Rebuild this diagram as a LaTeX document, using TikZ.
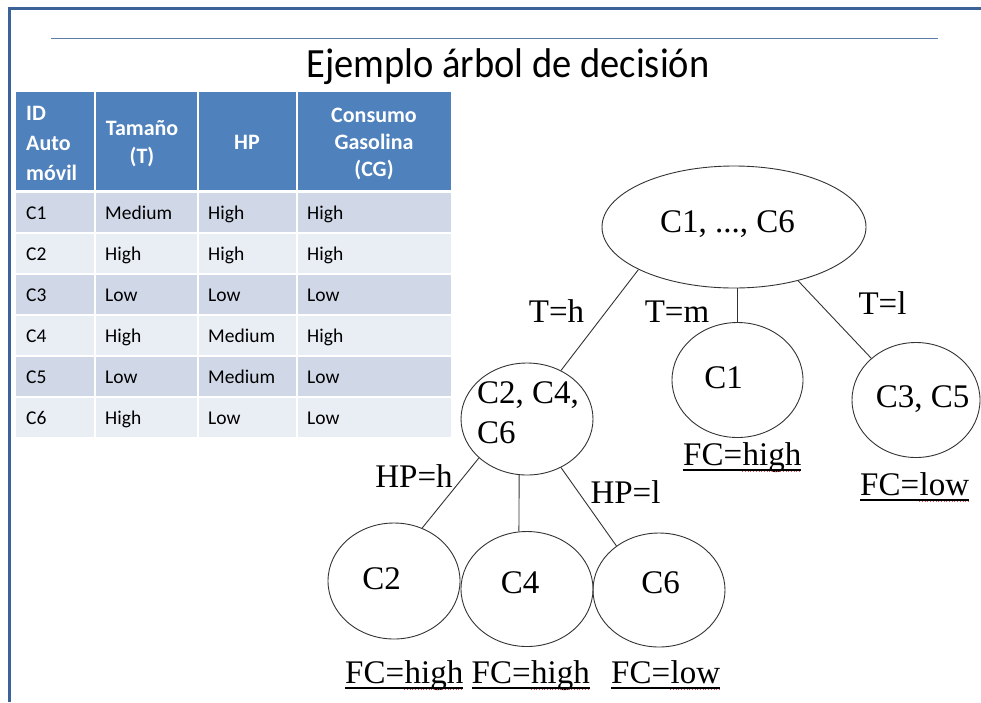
\documentclass[tikz,border=0pt]{standalone}
\usepackage{fontspec}
\setmainfont{Liberation Serif}
\newfontfamily\calibri{Carlito}
\usetikzlibrary{shapes.geometric}

\definecolor{frameblue}{HTML}{3C6397}
\definecolor{ruleblue}{HTML}{5B7DA8}
\definecolor{headblue}{HTML}{4F81BD}
\definecolor{rowdark}{HTML}{D0D8E8}
\definecolor{rowlight}{HTML}{E9EDF4}
\definecolor{spellred}{HTML}{E05050}
\definecolor{inkgray}{HTML}{333333}

\tikzset{
  headtext/.style={inner sep=0pt, text=white, font=\calibri\bfseries\fontsize{22}{27}\selectfont},
  bodytext/.style={inner sep=0pt, anchor=base west, text=black, font=\calibri\fontsize{19.5}{24}\selectfont},
  treenode/.style={draw=inkgray, line width=0.9pt, ellipse, inner sep=0pt},
  treetext/.style={inner sep=0pt, anchor=base, font=\fontsize{33}{39}\selectfont},
  edge/.style={draw=inkgray, line width=0.9pt},
  fcword/.style={inner sep=0pt, anchor=base west, font=\fontsize{33}{39}\selectfont},
  fcline/.style={line width=1.3pt},
  spell/.style={spellred, line width=0.7pt, dotted}
}

\begin{document}
\begin{tikzpicture}[x=1pt,y=-1pt]
\fill[white] (0,0) rectangle (981,702);
\useasboundingbox (0,0) rectangle (981,702);

% slide frame and title rule
\fill[frameblue] (8,7) rectangle (981,10);
\fill[frameblue] (8,7) rectangle (11,702);
\draw[ruleblue, line width=1.4pt] (51,38.5) -- (938,38.5);

\node[inner sep=0pt, anchor=base, font=\calibri\fontsize{38.5}{46}\selectfont] (title) at (508,77) {\scalebox{1}[1.08]{Ejemplo árbol de decisión}};

% table header
\fill[headblue] (16,92) rectangle (94,190);
\fill[headblue] (96,92) rectangle (197,190);
\fill[headblue] (199,92) rectangle (296,190);
\fill[headblue] (298,92) rectangle (451,190);

\node[headtext, anchor=base west] (h1a) at (26,120) {ID};
\node[headtext, anchor=base west] (h1b) at (26,150) {Auto};
\node[headtext, anchor=base west] (h1c) at (26,180) {móvil};
\node[headtext, anchor=base] (h2a) at (142,135.5) {Tamaño};
\node[headtext, anchor=base] (h2b) at (142,163) {(T)};
\node[headtext, anchor=base] (h3a) at (247,149) {HP};
\node[headtext, anchor=base] (h4a) at (374,122) {Consumo};
\node[headtext, anchor=base] (h4b) at (374,149) {Gasolina};
\node[headtext, anchor=base] (h4c) at (374,176) {(CG)};

% table body
\foreach \r/\col/\a/\b/\c/\d in {
  1/rowdark/C1/Medium/High/High,
  2/rowlight/C2/High/High/High,
  3/rowdark/C3/Low/Low/Low,
  4/rowlight/C4/High/Medium/High,
  5/rowdark/C5/Low/Medium/Low,
  6/rowlight/C6/High/Low/Low}{
  \pgfmathsetmacro\yt{193+41*(\r-1)}
  \pgfmathsetmacro\yb{\yt+39}
  \pgfmathsetmacro\ybase{\yt+26.5}
  \fill[\col] (16,\yt) rectangle (94,\yb);
  \fill[\col] (96,\yt) rectangle (197,\yb);
  \fill[\col] (199,\yt) rectangle (296,\yb);
  \fill[\col] (298,\yt) rectangle (451,\yb);
  \node[bodytext] (id-\r) at (26,\ybase) {\a};
  \node[bodytext] (t-\r) at (105,\ybase) {\b};
  \node[bodytext] (hp-\r) at (208,\ybase) {\c};
  \node[bodytext] (cg-\r) at (307,\ybase) {\d};
}

% decision tree nodes
\node[treenode, minimum width=264pt, minimum height=122pt] (root) at (734,227) {};
\node[treenode, minimum width=131pt, minimum height=115pt] (c1) at (737.5,380) {};
\node[treenode, minimum width=128pt, minimum height=115pt] (c35) at (916,400) {};
\node[treenode, minimum width=132pt, minimum height=112pt] (c246) at (527,419) {};
\node[treenode, minimum width=132pt, minimum height=116pt] (c2) at (394,581) {};
\node[treenode, minimum width=132pt, minimum height=115pt] (c4) at (527,589) {};
\node[treenode, minimum width=132pt, minimum height=114pt] (c6) at (659,590) {};

\node[treetext] (troot) at (727.5,232) {C1, ..., C6};
\node[treetext] (tc1) at (723.5,388) {C1};
\node[treetext] (tc35) at (922.5,407) {C3, C5};
\node[treetext, anchor=base west] (tc246a) at (477,403) {C2, C4,};
\node[treetext, anchor=base west] (tc246b) at (477,443) {C6};
\node[treetext] (tc2) at (381.5,589) {C2};
\node[treetext] (tc4) at (520,593) {C4};
\node[treetext] (tc6) at (660.5,593) {C6};

% branches
\draw[edge] (root.204) -- (c246.55);
\draw[edge] (root.south -| c1.north) -- (c1.north);
\draw[edge] (root.320) -- (c35.137);
\draw[edge] (c246.219) -- (c2.62);
\draw[edge] (c246.262) -- (c4.98);
\draw[edge] (c246.305) -- (c6.134);

% branch labels
\node[treetext] (lth) at (556.5,322) {T=h};
\node[treetext] (ltm) at (677,322) {T=m};
\node[treetext] (ltl) at (882.5,314) {T=l};
\node[treetext] (lhph) at (414,487) {HP=h};
\node[treetext] (lhpl) at (625.5,503) {HP=l};

% leaf classes
\foreach \n/\x/\y/\w in {fa/683/465/high, fb/860/495/low, fc/345/683/high, fd/471.5/683/high, fe/611/683/low}{
  \node[fcword] (\n-k) at (\x,\y) {FC=};
  \node[fcword] (\n-v) at (\n-k.base east) {\w};
  \draw[fcline] ([yshift=-5pt]\n-k.base west) -- ([yshift=-5pt]\n-v.base east);
  \draw[spell] ([yshift=-6.6pt]\n-v.base west) -- ([yshift=-6.6pt]\n-v.base east);
}
\end{tikzpicture}
\end{document}
